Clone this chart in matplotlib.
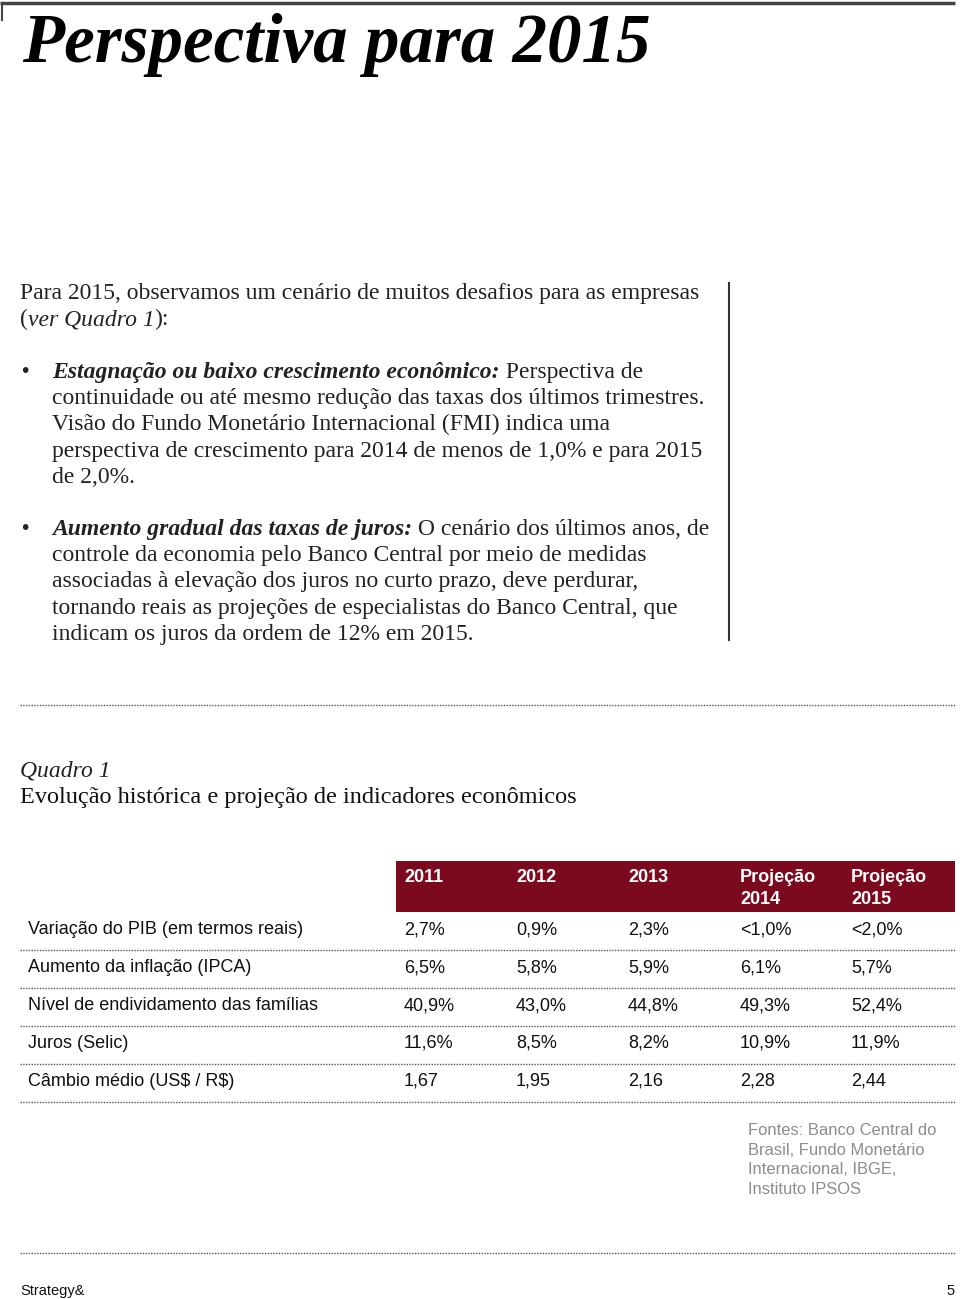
import matplotlib
matplotlib.use("Agg")
import matplotlib.pyplot as plt
from matplotlib.patches import Rectangle

# ------------------------------------ data ------------------------------------
col_top = ["2011", "2012", "2013", "Projeção", "Projeção"]
col_bottom = ["", "", "", "2014", "2015"]
row_labels = ["Variação do PIB (em termos reais)",
              "Aumento da inflação (IPCA)",
              "Nível de endividamento das famílias",
              "Juros (Selic)",
              "Câmbio médio (US$ / R$)"]
pib = ["2,7%", "0,9%", "2,3%", "<1,0%", "<2,0%"]
ipca = ["6,5%", "5,8%", "5,9%", "6,1%", "5,7%"]
endividamento = ["40,9%", "43,0%", "44,8%", "49,3%", "52,4%"]
selic = ["11,6%", "8,5%", "8,2%", "10,9%", "11,9%"]
cambio = ["1,67", "1,95", "2,16", "2,28", "2,44"]
rows = [pib, ipca, endividamento, selic, cambio]

fontes = ["Fontes: Banco Central do", "Brasil, Fundo Monetário",
          "Internacional, IBGE,", "Instituto IPSOS"]

# paragraph text, each line is a list of (text, italic, bold)
intro = [
    [("Para 2015, observamos um cenário de muitos desafios para as empresas", 0, 0)],
    [("(", 0, 0), ("ver Quadro 1", 1, 0), ("):", 0, 0)],
]
bullet1 = [
    [("Estagnação ou baixo crescimento econômico:", 1, 1), (" Perspectiva de", 0, 0)],
    [("continuidade ou até mesmo redução das taxas dos últimos trimestres.", 0, 0)],
    [("Visão do Fundo Monetário Internacional (FMI) indica uma", 0, 0)],
    [("perspectiva de crescimento para 2014 de menos de 1,0% e para 2015", 0, 0)],
    [("de 2,0%.", 0, 0)],
]
bullet2 = [
    [("Aumento gradual das taxas de juros:", 1, 1), (" O cenário dos últimos anos, de", 0, 0)],
    [("controle da economia pelo Banco Central por meio de medidas", 0, 0)],
    [("associadas à elevação dos juros no curto prazo, deve perdurar,", 0, 0)],
    [("tornando reais as projeções de especialistas do Banco Central, que", 0, 0)],
    [("indicam os juros da ordem de 12% em 2015.", 0, 0)],
]

# ------------------------------------ setup ------------------------------------
SERIF = "Liberation Serif"
SANS = "Liberation Sans"
RED = "#7b0a1e"
DOT = (0, (1, 1))
BODY = 17          # body text size
TAB = 13           # table text size

fig = plt.figure(figsize=(9.6, 12.99), dpi=100)
ax = fig.add_axes([0, 0, 1, 1])
ax.set_xlim(0, 960)
ax.set_ylim(1299, 0)
ax.axis("off")


# method to draw one line made of several styled pieces
def rich_line(x, y, parts, size=BODY):
    prev = None
    for s, it, bd in parts:
        kw = dict(fontsize=size, family=SERIF, color="#222222",
                  style="italic" if it else "normal",
                  weight="bold" if bd else "normal", parse_math=False)
        if prev is None:
            prev = ax.text(x, y, s, ha="left", va="baseline", **kw)
        else:
            prev = ax.annotate(s, xy=(1, 0), xycoords=prev, ha="left", va="bottom", **kw)


# top border
ax.plot([0, 955], [3, 3], color="#444444", lw=2.5, solid_capstyle="butt")
ax.plot([2, 2], [3, 20], color="#444444", lw=1.5)

# title
ax.text(22, 62, "Perspectiva para 2015", fontsize=49.7, family=SERIF,
        style="italic", weight="bold", color="black", va="baseline")

# intro paragraph and bullets
for i, line in enumerate(intro):
    rich_line(20, 299 + 26 * i, line)
for y0, block in [(378, bullet1), (535, bullet2)]:
    ax.text(21, y0 - 1, "•", fontsize=15, family=SANS, color="#222222", va="baseline")
    for i, line in enumerate(block):
        rich_line(52, y0 + 26.2 * i, line)

# vertical divider
ax.plot([729, 729], [283, 640], color="#333333", lw=1.5)

# dotted separators
ax.plot([20, 955], [705, 705], color="#555555", lw=1, linestyle=DOT)
ax.plot([20, 955], [1253, 1253], color="#555555", lw=1, linestyle=DOT)

# table caption
ax.text(20, 776, "Quadro 1", fontsize=BODY, family=SERIF, style="italic",
        color="#222222", va="baseline")
ax.text(20, 803, "Evolução histórica e projeção de indicadores econômicos",
        fontsize=17.5, family=SERIF, color="#111111", va="baseline")

# table
col_x = [404, 516, 628, 740, 851]
ax.add_patch(Rectangle((396, 861), 559, 51, color=RED, lw=0))
for cx, top, bot in zip(col_x, col_top, col_bottom):
    ax.text(cx, 882, top, fontsize=TAB, family=SANS, weight="bold",
            color="white", va="baseline")
    ax.text(cx, 904, bot, fontsize=TAB, family=SANS, weight="bold",
            color="white", va="baseline")

for r, (label, vals) in enumerate(zip(row_labels, rows)):
    yb = 934 + 38 * r
    ax.text(28, yb, label, fontsize=TAB, family=SANS, color="#111111",
            va="baseline", parse_math=False)
    for cx, v in zip(col_x, vals):
        ax.text(cx, yb, v, fontsize=TAB, family=SANS, color="#111111",
                va="baseline", parse_math=False)
    ax.plot([20, 955], [950 + 38 * r, 950 + 38 * r], color="#555555", lw=1,
            linestyle=DOT)

# sources
for i, s in enumerate(fontes):
    ax.text(748, 1135 + 19.7 * i, s, fontsize=11.9, family=SANS,
            color="#8c8c8c", va="baseline")

# footer
ax.text(20, 1295, "Strategy&", fontsize=10.5, family=SANS, color="#111111",
        va="baseline")
ax.text(955, 1295, "5", fontsize=10.5, family=SANS, color="#111111",
        va="baseline", ha="right")

fig.savefig("out.png", dpi=100)
